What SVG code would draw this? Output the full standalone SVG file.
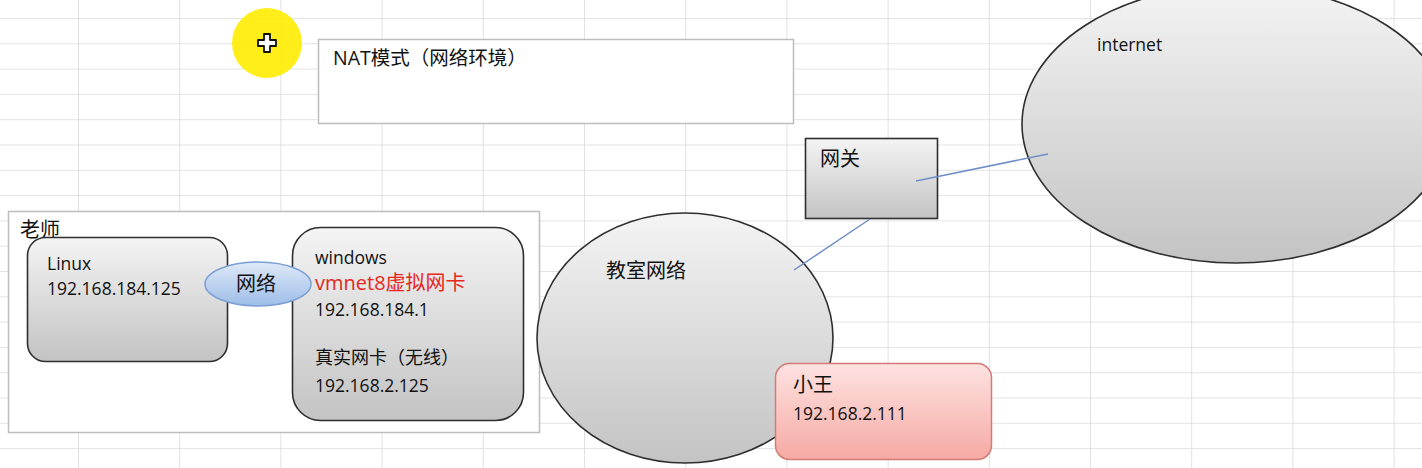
<svg xmlns="http://www.w3.org/2000/svg" width="1422" height="468" viewBox="0 0 1422 468">
<defs>
<linearGradient id="gGray" x1="0" y1="0" x2="0" y2="1">
<stop offset="0" stop-color="#f4f4f4"/>
<stop offset="1" stop-color="#c3c3c3"/>
</linearGradient>
<linearGradient id="gBlue" x1="0" y1="0" x2="0" y2="1">
<stop offset="0" stop-color="#dfe9f8"/>
<stop offset="1" stop-color="#9dbde8"/>
</linearGradient>
<linearGradient id="gPink" x1="0" y1="0" x2="0" y2="1">
<stop offset="0" stop-color="#fde3e1"/>
<stop offset="1" stop-color="#f6a9a4"/>
</linearGradient>
<pattern id="grid" x="78" y="18" width="101.2" height="25.3" patternUnits="userSpaceOnUse">
<path d="M0 0 H101.2 M0 0 V25.3" fill="none" stroke="#dadada" stroke-width="1.6"/>
</pattern>
</defs>
<style>
.t{font-family:"Open Sans","Noto Sans CJK SC",sans-serif;fill:#111;}
.cj{font-size:20px;}
.ip{font-size:17.5px;}
.sh{stroke:#2e2e2e;stroke-width:1.6;fill:url(#gGray);}
.box{fill:#fff;stroke:#bdbdbd;stroke-width:1.5;}
.con{stroke:#6f8fc6;stroke-width:1.5;fill:none;}
</style>
<rect width="1422" height="468" fill="#fff"/>
<rect x="-23.2" y="-7.3" width="1460" height="490" fill="url(#grid)"/>

<g id="cursor">
<circle cx="267" cy="43" r="35" fill="#ffec00" opacity="0.9"/>
<path d="M264 34 h6 v6 h6 v6 h-6 v6 h-6 v-6 h-6 v-6 h6 z" fill="#fff" stroke="#111" stroke-width="1.8" stroke-linejoin="round"/>
</g>

<g id="nat-title">
<rect class="box" x="318.5" y="39.5" width="475" height="84"/>
<text class="t" x="333" y="65" style="font-size:19.5px">NAT模式（网络环境）</text>
</g>

<g id="teacher">
<rect class="box" x="8.5" y="211.5" width="531" height="221"/>
<text class="t cj" x="20" y="237">老师</text>
</g>

<g id="linux">
<rect class="sh" x="27.5" y="237.5" width="200" height="124" rx="18"/>
<text class="t ip" x="47" y="270">Linux</text>
<text class="t ip" x="47" y="295">192.168.184.125</text>
</g>

<g id="windows">
<rect class="sh" x="292.5" y="227.5" width="231" height="193" rx="28"/>
<text class="t ip" x="315" y="264">windows</text>
<text class="t cj" x="315" y="290" style="fill:#e8261c">vmnet8虚拟网卡</text>
<text class="t ip" x="315" y="316">192.168.184.1</text>
<text class="t" x="315" y="364" style="font-size:18px">真实网卡（无线）</text>
<text class="t ip" x="315" y="392">192.168.2.125</text>
</g>

<g id="vnet">
<ellipse cx="258" cy="284" rx="53" ry="22" fill="url(#gBlue)" stroke="#7a9fd4" stroke-width="1.5"/>
<text class="t cj" x="256" y="291" text-anchor="middle">网络</text>
</g>

<g id="classroom">
<ellipse class="sh" cx="685" cy="338" rx="148" ry="125"/>
<text class="t cj" x="606" y="278">教室网络</text>
</g>

<g id="gateway">
<rect class="sh" x="805.5" y="138.5" width="132" height="80"/>
<text class="t cj" x="820" y="166">网关</text>
</g>

<g id="internet">
<ellipse class="sh" cx="1236" cy="124" rx="214" ry="139"/>
<text class="t ip" x="1097" y="51">internet</text>
</g>

<g id="xiaowang">
<rect x="775.5" y="363.5" width="216" height="96" rx="14" fill="url(#gPink)" stroke="#d27c78" stroke-width="1.5"/>
<text class="t cj" x="793" y="392">小王</text>
<text class="t ip" x="793" y="420">192.168.2.111</text>
</g>

<g id="connectors">
<line class="con" x1="794" y1="270" x2="870" y2="219"/>
<line class="con" x1="916" y1="181" x2="1048" y2="154"/>
</g>
</svg>
